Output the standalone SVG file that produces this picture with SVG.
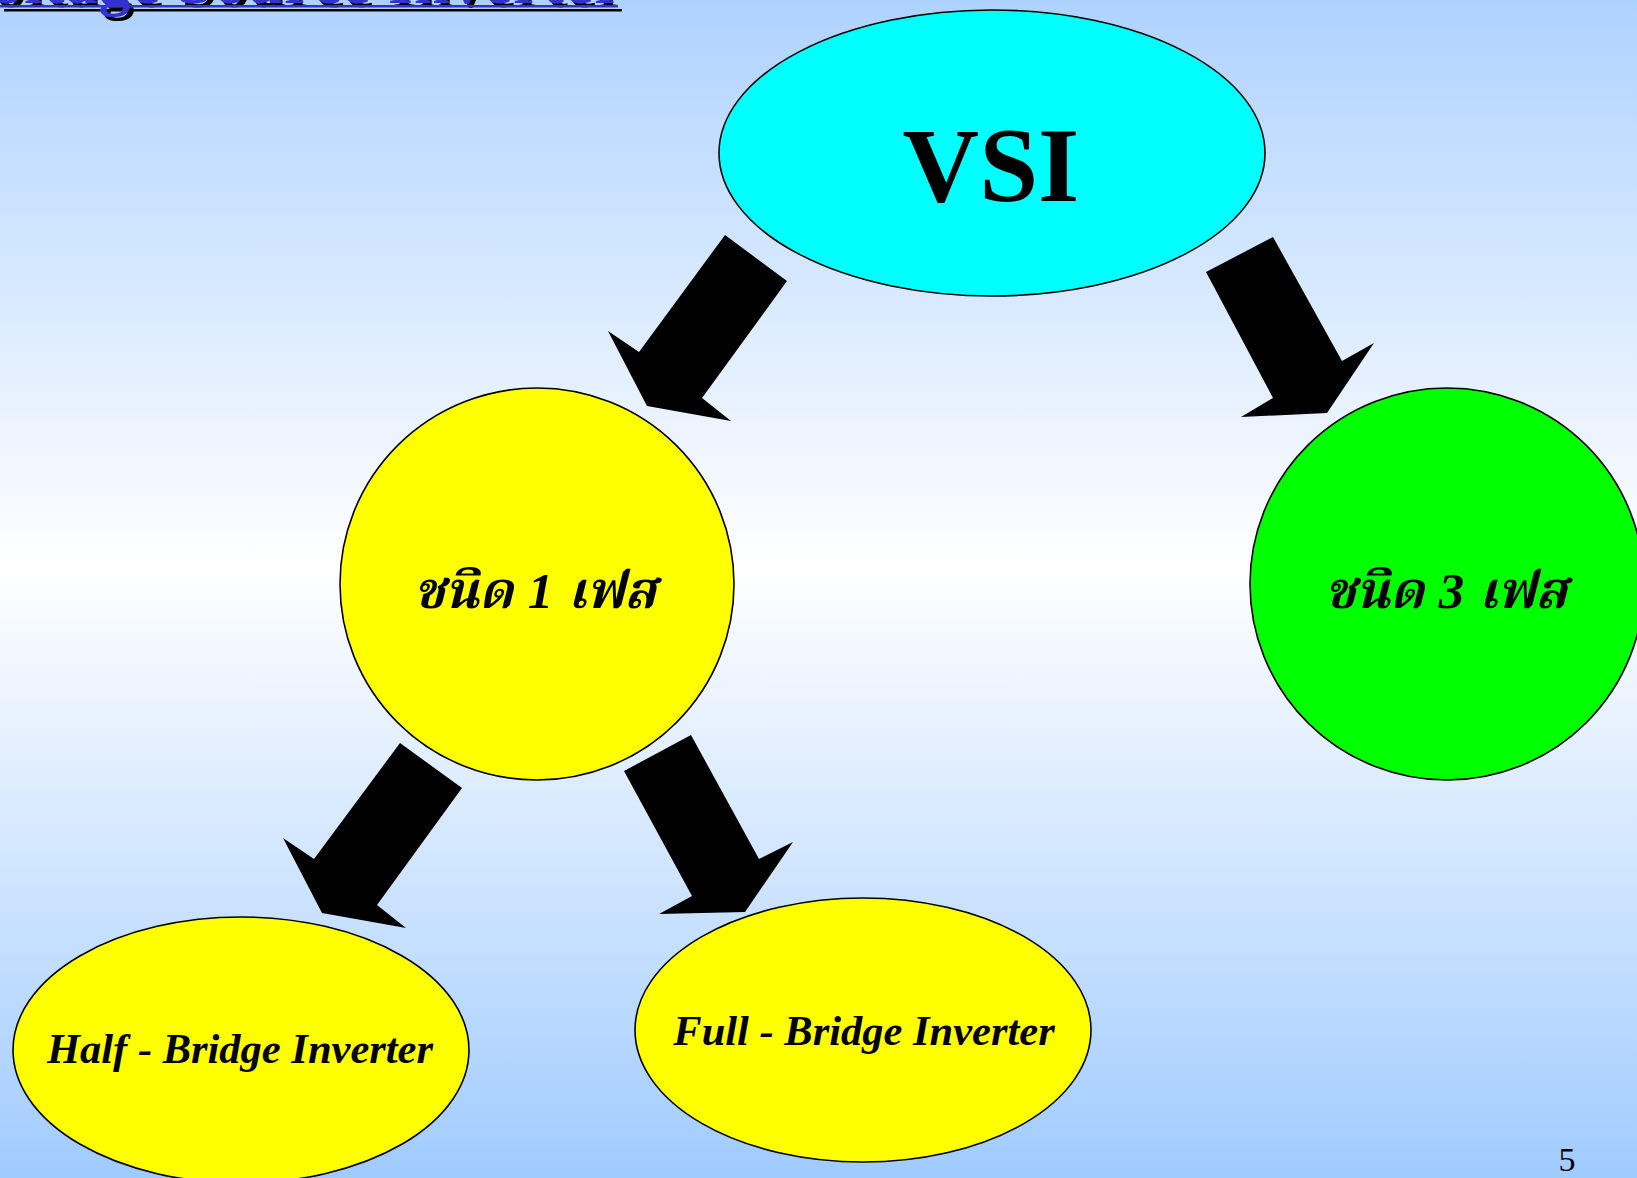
<svg xmlns="http://www.w3.org/2000/svg" width="1637" height="1178" viewBox="0 0 1637 1178">
<defs>
<linearGradient id="bg" x1="0" y1="0" x2="0" y2="1">
<stop offset="0" stop-color="#AED2FF"/>
<stop offset="0.48" stop-color="#FFFFFF"/>
<stop offset="1" stop-color="#A0CBFF"/>
</linearGradient>
<filter id="shadow" x="-10%" y="-50%" width="120%" height="200%">
<feFlood flood-color="#000" result="c"/>
<feComposite in="c" in2="SourceAlpha" operator="in" result="s"/>
<feOffset in="s" dx="4" dy="4" result="o"/>
<feMerge><feMergeNode in="o"/><feMergeNode in="SourceGraphic"/></feMerge>
</filter>
<style>
.node{stroke:#000;stroke-width:1.6}
.arrow{fill:#000}
.thai{font-family:"Liberation Serif","Noto Serif Thai","Noto Sans Thai",serif;font-weight:bold;font-style:italic;font-size:51px;text-anchor:middle;fill:#000;word-spacing:2px}
.lbl{font-family:"Liberation Serif",serif;font-weight:bold;font-style:italic;font-size:42.5px;text-anchor:middle;fill:#000}
.title{font-family:"Liberation Serif",serif;font-weight:bold;font-size:64px;letter-spacing:1px}
</style>
</defs>
<rect width="1637" height="1178" fill="url(#bg)"/>
<g id="title" filter="url(#shadow)">
<text class="title" x="-50" y="3" fill="#3333CC">Voltage Source Inverter</text>
<rect x="0" y="5" width="618" height="2.5" fill="#3333CC"/>
</g>
<g id="node-vsi">
<ellipse class="node" cx="992" cy="153" rx="273" ry="143" fill="#00FFFF"/>
<text x="991" y="201" font-family="Liberation Serif, serif" font-weight="bold" font-size="106" text-anchor="middle">VSI</text>
</g>
<g id="node-1phase">
<ellipse class="node" cx="537" cy="584" rx="197" ry="196" fill="#FFFF00"/>
<text class="thai" x="535" y="608">ชนิด 1 เฟส</text>
</g>
<g id="node-3phase">
<ellipse class="node" cx="1447" cy="584" rx="197" ry="196" fill="#00FF00"/>
<text class="thai" x="1446" y="608">ชนิด 3 เฟส</text>
</g>
<g id="node-half">
<ellipse class="node" cx="241" cy="1050" rx="228" ry="133" fill="#FFFF00"/>
<text class="lbl" x="240" y="1063">Half - Bridge Inverter</text>
</g>
<g id="node-full">
<ellipse class="node" cx="863" cy="1030" rx="228" ry="132" fill="#FFFF00"/>
<text class="lbl" x="864" y="1045">Full - Bridge Inverter</text>
</g>
<g id="connectors">
<polygon class="arrow" points="725,235 787,281 702,398 731,421 647,406 608,331 639,352"/>
<polygon class="arrow" points="1273,237 1206,272 1273,398 1241,417 1327,413 1374,343 1342,361"/>
<polygon class="arrow" points="400,743 462,788 377,905 406,928 322,913 283,838 314,859"/>
<polygon class="arrow" points="691,735 624,771 692,896 659,914 745,912 793,842 759,859"/>
</g>
<text x="1567" y="1171" font-family="Liberation Serif, serif" font-size="34" text-anchor="middle">5</text>
</svg>
